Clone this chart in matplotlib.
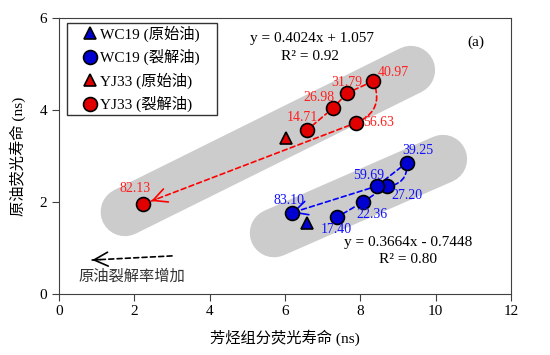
import numpy as np
import matplotlib.pyplot as plt
from matplotlib.lines import Line2D
from matplotlib.patches import Rectangle

plt.rcParams['font.family'] = ['Liberation Serif', 'Noto Sans CJK SC']
plt.rcParams['axes.unicode_minus'] = False

# WC19 cracked oil (cracking rate %)
wc_x = [7.37, 8.08, 8.70, 9.23, 8.43, 6.18]
wc_y = [1.66, 2.00, 2.34, 2.85, 2.34, 1.76]
wc_lab = ['17.40', '22.36', '27.20', '39.25', '59.69', '83.10']
wc_orig = (6.59, 1.53)

# YJ33 cracked oil
yj_x = [6.58, 7.27, 7.65, 8.34, 7.88, 2.24]
yj_y = [3.56, 4.04, 4.37, 4.63, 3.72, 1.95]
yj_lab = ['14.71', '26.98', '31.79', '40.97', '56.63', '82.13']
yj_orig = (6.03, 3.39)

# grey trend bands (end points)
band_yj = ([1.75, 9.34], [1.78, 4.87])
band_wc = ([5.71, 10.19], [1.32, 2.93])

red_fill = '#E00000'
blue_fill = '#0000D0'
red_txt = '#FF2020'
blue_txt = '#1010FF'

fig = plt.figure(figsize=(5.5, 3.55), dpi=100)
ax = fig.add_axes([0.1073, 0.1732, 0.8218, 0.7752])

ax.plot(*band_yj, color='#CCCCCC', lw=35, solid_capstyle='round', zorder=0)
ax.plot(*band_wc, color='#CCCCCC', lw=35, solid_capstyle='round', zorder=0)

HEAD = '->,head_length=1.0,head_width=0.5'


def link(p0, p1, color, rad=0.0, head=False):
    ax.annotate('', xy=p1, xytext=p0,
                arrowprops=dict(arrowstyle='-', color=color, lw=1.2, linestyle=(0, (3, 2)),
                                connectionstyle='arc3,rad=%s' % rad, shrinkA=5, shrinkB=6),
                zorder=2)
    if head:
        d = np.array(p1) - np.array(p0)
        q = np.array(p1) - d * 0.06
        ax.annotate('', xy=p1, xytext=tuple(q),
                    arrowprops=dict(arrowstyle=HEAD, color=color, lw=1.2, shrinkA=0, shrinkB=6),
                    zorder=2)


# YJ33 path
pts = list(zip(yj_x, yj_y))
link(pts[0], pts[1], 'red')
link(pts[1], pts[2], 'red')
link(pts[2], pts[3], 'red')
link(pts[3], pts[4], 'red', rad=-0.5)
link(pts[4], pts[5], 'red', head=True)

# WC19 path
pts = list(zip(wc_x, wc_y))
link(pts[0], pts[1], 'blue')
link(pts[1], pts[2], 'blue')
link(pts[2], pts[3], 'blue', rad=0.5)
link(pts[3], pts[4], 'blue')
link(pts[4], pts[5], 'blue', head=True)

ax.plot(wc_x, wc_y, 'o', ms=10, mfc=blue_fill, mec='black', mew=1.2, ls='none', zorder=3)
ax.plot(yj_x, yj_y, 'o', ms=10, mfc=red_fill, mec='black', mew=1.2, ls='none', zorder=3)
ax.plot(*wc_orig, '^', ms=9, mfc=blue_fill, mec='black', mew=1.2, zorder=3)
ax.plot(*yj_orig, '^', ms=9, mfc=red_fill, mec='black', mew=1.2, zorder=3)

yj_off = [(-3, 9.5), (-10, 8), (0, 7.5), (14.5, 6), (16.5, 0), (-6, 11.5)]
wc_off = [(0, -9), (6, -9.5), (14.5, -6.5), (8, 8.5), (-6, 8), (-2, 9)]
for x, y, t, o in zip(yj_x, yj_y, yj_lab, yj_off):
    ax.annotate(t, (x, y), xytext=o, textcoords='offset points', ha='center', va='center',
                color=red_txt, fontsize=10, zorder=4)
for x, y, t, o in zip(wc_x, wc_y, wc_lab, wc_off):
    ax.annotate(t, (x, y), xytext=o, textcoords='offset points', ha='center', va='center',
                color=blue_txt, fontsize=10, zorder=4)

ax.text(6.72, 5.55, 'y = 0.4024x + 1.057', ha='center', va='center', fontsize=11)
ax.text(6.66, 5.16, 'R² = 0.92', ha='center', va='center', fontsize=11)
ax.text(11.07, 5.48, '(a)', ha='center', va='center', fontsize=11)
ax.text(9.26, 1.12, 'y = 0.3664x - 0.7448', ha='center', va='center', fontsize=11)
ax.text(9.26, 0.75, 'R² = 0.80', ha='center', va='center', fontsize=11)

ax.annotate('', xy=(0.88, 0.73), xytext=(3.0, 0.82),
            arrowprops=dict(arrowstyle='-', color='black', lw=1.2, linestyle=(0, (3, 2)),
                            shrinkA=0, shrinkB=0))
ax.annotate('', xy=(0.88, 0.73), xytext=(1.1, 0.74),
            arrowprops=dict(arrowstyle=HEAD, color='black', lw=1.2, shrinkA=0, shrinkB=0))
ax.text(1.94, 0.36, '原油裂解率增加', ha='center', va='center', fontsize=11, color='#333333')

# legend: own frame, entries placed without frame
ax.add_patch(Rectangle((0.0177, 0.6486), 0.3319, 0.3344, transform=ax.transAxes,
                       facecolor='white', edgecolor='#333333', lw=1.0, zorder=5))
handles = [
    Line2D([], [], marker='^', ls='none', ms=9, mfc=blue_fill, mec='black', mew=1.2),
    Line2D([], [], marker='o', ls='none', ms=10, mfc=blue_fill, mec='black', mew=1.2),
    Line2D([], [], marker='^', ls='none', ms=9, mfc=red_fill, mec='black', mew=1.2),
    Line2D([], [], marker='o', ls='none', ms=10, mfc=red_fill, mec='black', mew=1.2),
]
labels = ['WC19 (原始油)', 'WC19 (裂解油)', 'YJ33 (原始油)', 'YJ33 (裂解油)']
leg = ax.legend(handles, labels, loc='upper left', bbox_to_anchor=(0.051, 0.974), borderaxespad=0,
                fontsize=11, frameon=False, handlelength=1.0, handletextpad=0.2,
                labelspacing=0.48, borderpad=0)
leg.set_zorder(6)

ax.set_xlim(0, 12)
ax.set_ylim(0, 6)
ax.set_xticks(np.arange(0, 13, 2))
ax.set_yticks(np.arange(0, 7, 2))
ax.tick_params(direction='out', length=5, labelsize=11, color='#404040')
for s in ax.spines.values():
    s.set_color('#404040')
ax.set_xlabel('芳烃组分荧光寿命 (ns)', fontsize=11, labelpad=8)
ax.set_ylabel('原油荧光寿命 (ns)', fontsize=11, labelpad=10)

fig.savefig('out.png', dpi=100)
